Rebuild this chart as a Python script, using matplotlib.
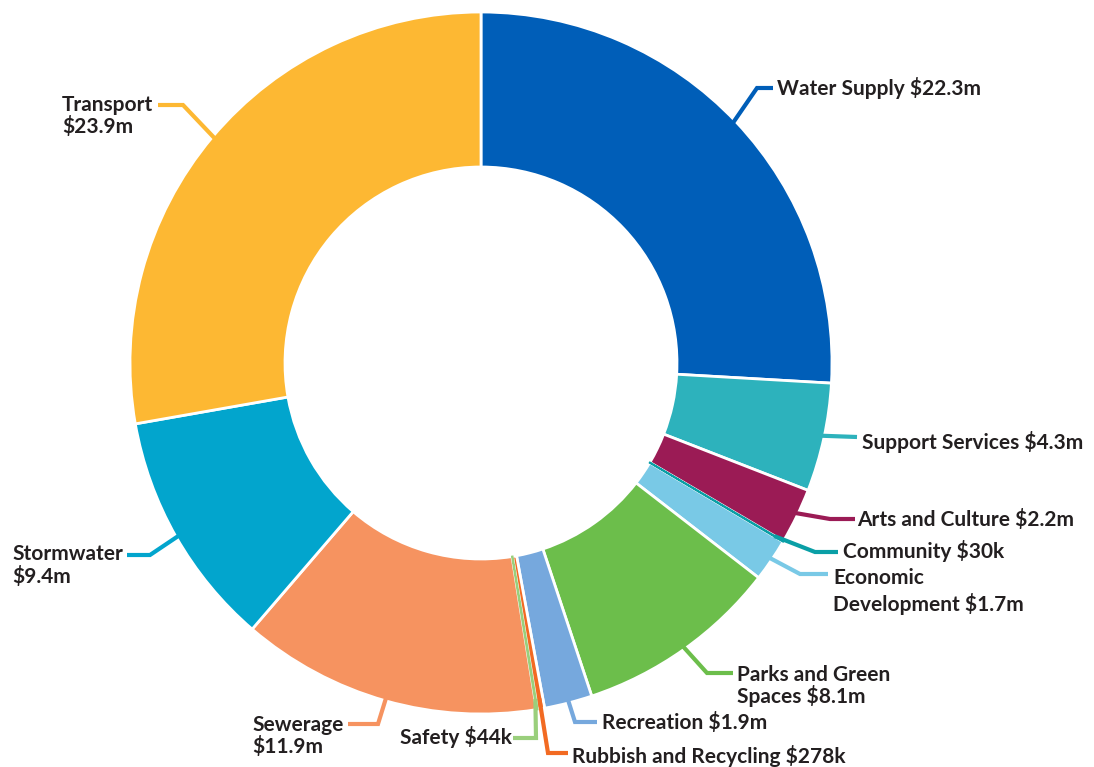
import numpy as np
import matplotlib.pyplot as plt

# data
labels = ["Water Supply", "Support Services", "Arts and Culture", "Community",
          "Economic Development", "Parks and Green Spaces", "Recreation",
          "Rubbish and Recycling", "Safety", "Sewerage", "Stormwater", "Transport"]
values = [22.3, 4.3, 2.2, 0.03, 1.7, 8.1, 1.9, 0.278, 0.044, 11.9, 9.4, 23.9]
value_text = ["$22.3m", "$4.3m", "$2.2m", "$30k", "$1.7m", "$8.1m", "$1.9m",
              "$278k", "$44k", "$11.9m", "$9.4m", "$23.9m"]
colors = ["#005EB8", "#2DB2BC", "#9B1B55", "#0A9FA6", "#79C9E6", "#6CBE4B",
          "#76A8DD", "#F26A22", "#9ACF7C", "#F69360", "#02A5CD", "#FDB833"]

# label text lines (how each label wraps)
label_lines = [
    ["Water Supply $22.3m"],
    ["Support Services $4.3m"],
    ["Arts and Culture $2.2m"],
    ["Community $30k"],
    ["Economic", "Development $1.7m"],
    ["Parks and Green", "Spaces $8.1m"],
    ["Recreation $1.9m"],
    ["Rubbish and Recycling $278k"],
    ["Safety $44k"],
    ["Sewerage", "$11.9m"],
    ["Stormwater", "$9.4m"],
    ["Transport", "$23.9m"],
]

# layout in pixel coords (y down): elbow, line end, text x, baselines, alignment
elbows = [(757, 88), (857, 437), (830, 519), (815, 552), (800, 574), (707, 673),
          (575, 722), (548, 753), (536, 738), (378, 724), (150, 555), (183, 105)]
ends = [(773, 88), (857, 437), (855, 519), (838, 552), (828, 574), (733, 673),
        (597, 722), (568, 753), (513, 738), (348, 724), (127, 555), (158, 105)]
text_x = [777, 862, 857, 843, 833, 737, 602, 572, 512, 252, 12, 62]
baselines = [[95], [449], [526], [558], [584, 611], [681, 703], [729], [763],
             [744], [731, 753], [560, 583], [111, 133]]
aligns = ["left"] * 8 + ["right"] + ["left"] * 3

cx, cy, R = 481, 363, 351
width = 155

plt.rcParams['font.family'] = ['Lato', 'DejaVu Sans']

fig = plt.figure(figsize=(10.94, 7.67), dpi=100)
ax = fig.add_axes([0, 0, 1, 1])

# y axis inverted, so startangle -90 / counterclock=True gives top start, clockwise
wedges, _ = ax.pie(values, colors=colors, startangle=-90, counterclock=True,
                   center=(cx, cy), radius=R,
                   wedgeprops=dict(width=width, edgecolor="white", linewidth=2.0))
ax.set_xlim(0, 1094)
ax.set_ylim(767, 0)
ax.set_aspect('equal')
ax.axis('off')

# very thin slices: draw them as a visible sliver on top of the separators
for w, v, c in zip(wedges, values, colors):
    if v < 0.1:
        w.set_edgecolor(c)
        w.set_linewidth(1.3)
        w.set_zorder(5)

for i, w in enumerate(wedges):
    mid = np.deg2rad((w.theta1 + w.theta2) / 2)
    sx = cx + 0.97 * R * np.cos(mid)
    sy = cy + 0.97 * R * np.sin(mid)
    ex, ey = elbows[i]
    fx, fy = ends[i]
    ax.plot([sx, ex, fx], [sy, ey, fy], color=colors[i], lw=3,
            solid_capstyle='butt', solid_joinstyle='miter', zorder=3)
    for line, by in zip(label_lines[i], baselines[i]):
        ax.text(text_x[i], by, line, ha=aligns[i], va='baseline',
                fontsize=15, fontweight='bold', color="#231F20", zorder=6)

fig.savefig("out.png", dpi=100)
